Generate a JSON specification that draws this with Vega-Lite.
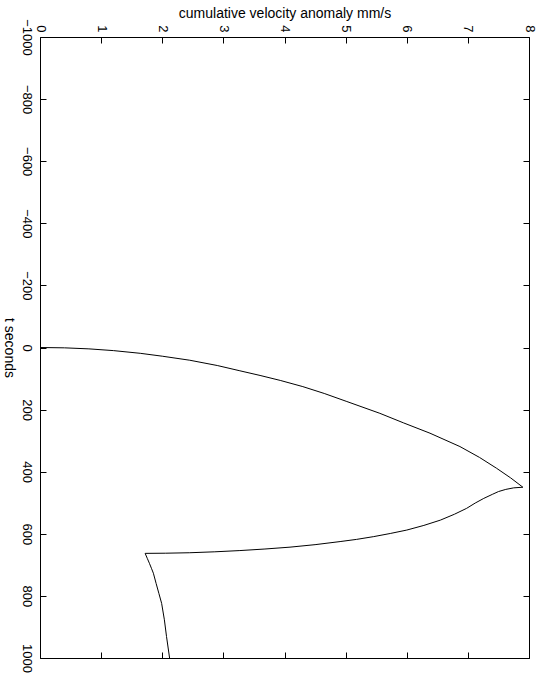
{
  "$schema": "https://vega.github.io/schema/vega-lite/v6.json",
  "width": 489,
  "height": 621,
  "autosize": "none",
  "padding": {"left": 40, "top": 37, "right": 13, "bottom": 20},
  "background": "white",
  "config": {
    "font": "Liberation Sans",
    "view": {"stroke": "black", "strokeWidth": 1},
    "axis": {"grid": false, "domain": false, "labelFont": "Liberation Sans", "titleFont": "Liberation Sans", "labelColor": "black", "titleColor": "black", "tickColor": "black", "labelFontSize": 13, "titleFontSize": 14, "titleFontWeight": "normal", "tickSize": -6, "tickWidth": 1}
  },
  "data": {"values": [
    {"i": 0, "t": 0, "v": 0},
    {"i": 1, "t": 1.1, "v": 0.4},
    {"i": 2, "t": 4.4, "v": 0.8},
    {"i": 3, "t": 10, "v": 1.2},
    {"i": 4, "t": 18.7, "v": 1.64},
    {"i": 5, "t": 28, "v": 2.0},
    {"i": 6, "t": 41, "v": 2.45},
    {"i": 7, "t": 58, "v": 2.9},
    {"i": 8, "t": 75, "v": 3.27},
    {"i": 9, "t": 90, "v": 3.6},
    {"i": 10, "t": 106, "v": 3.93},
    {"i": 11, "t": 126, "v": 4.3},
    {"i": 12, "t": 148, "v": 4.65},
    {"i": 13, "t": 174, "v": 5.02},
    {"i": 14, "t": 212, "v": 5.56},
    {"i": 15, "t": 243, "v": 5.95},
    {"i": 16, "t": 276, "v": 6.38},
    {"i": 17, "t": 319, "v": 6.87},
    {"i": 18, "t": 354, "v": 7.19},
    {"i": 19, "t": 389, "v": 7.47},
    {"i": 20, "t": 420, "v": 7.7},
    {"i": 21, "t": 450, "v": 7.9},
    {"i": 22, "t": 452, "v": 7.75},
    {"i": 23, "t": 457, "v": 7.62},
    {"i": 24, "t": 464, "v": 7.5},
    {"i": 25, "t": 473, "v": 7.4},
    {"i": 26, "t": 486, "v": 7.26},
    {"i": 27, "t": 501, "v": 7.12},
    {"i": 28, "t": 518, "v": 6.98},
    {"i": 29, "t": 537, "v": 6.78},
    {"i": 30, "t": 556, "v": 6.55},
    {"i": 31, "t": 573, "v": 6.28},
    {"i": 32, "t": 588, "v": 6.0},
    {"i": 33, "t": 599, "v": 5.73},
    {"i": 34, "t": 609, "v": 5.46},
    {"i": 35, "t": 618, "v": 5.18},
    {"i": 36, "t": 625, "v": 4.91},
    {"i": 37, "t": 635, "v": 4.5},
    {"i": 38, "t": 643, "v": 4.09},
    {"i": 39, "t": 649, "v": 3.68},
    {"i": 40, "t": 654, "v": 3.27},
    {"i": 41, "t": 658, "v": 2.86},
    {"i": 42, "t": 661, "v": 2.45},
    {"i": 43, "t": 662.5, "v": 2.05},
    {"i": 44, "t": 663, "v": 1.72},
    {"i": 45, "t": 679, "v": 1.755},
    {"i": 46, "t": 695, "v": 1.79},
    {"i": 47, "t": 711, "v": 1.823},
    {"i": 48, "t": 727, "v": 1.855},
    {"i": 49, "t": 760, "v": 1.9},
    {"i": 50, "t": 792, "v": 1.945},
    {"i": 51, "t": 824, "v": 1.99},
    {"i": 52, "t": 877, "v": 2.035},
    {"i": 53, "t": 931, "v": 2.07},
    {"i": 54, "t": 1000, "v": 2.12}
  ]},
  "layer": [
    {
      "mark": {"type": "line", "color": "black", "strokeWidth": 1},
      "encoding": {
        "x": {"field": "v", "type": "quantitative", "scale": {"domain": [0, 8], "nice": false, "zero": false},
              "axis": {"orient": "top", "title": "cumulative velocity anomaly mm/s", "values": [0,1,2,3,4,5,6,7,8], "format": "d", "labelAngle": 90, "labelPadding": 11, "titleAngle": 0, "titleX": 244.5, "titleY": -20, "titleBaseline": "alphabetic", "titleAlign": "center"}},
        "y": {"field": "t", "type": "quantitative", "scale": {"domain": [-1000, 1000], "nice": false, "reverse": true},
              "axis": {"orient": "left", "title": "t seconds", "values": [-1000,-800,-600,-400,-200,0,200,400,600,800,1000], "format": "d", "labelAngle": 90, "labelPadding": 14, "titleAngle": 90, "titleX": -31.5, "titleY": 310.5, "titleBaseline": "middle", "titleAlign": "center"}},
        "order": {"field": "i", "type": "quantitative"}
      }
    },
    {
      "mark": {"type": "line", "opacity": 0},
      "encoding": {
        "x": {"field": "v", "type": "quantitative", "axis": {"orient": "bottom", "title": null, "labels": false, "values": [0,1,2,3,4,5,6,7,8]}},
        "y": {"field": "t", "type": "quantitative", "axis": {"orient": "right", "title": null, "labels": false, "values": [-1000,-800,-600,-400,-200,0,200,400,600,800,1000]}},
        "order": {"field": "i", "type": "quantitative"}
      }
    }
  ],
  "resolve": {"axis": {"x": "independent", "y": "independent"}}
}
